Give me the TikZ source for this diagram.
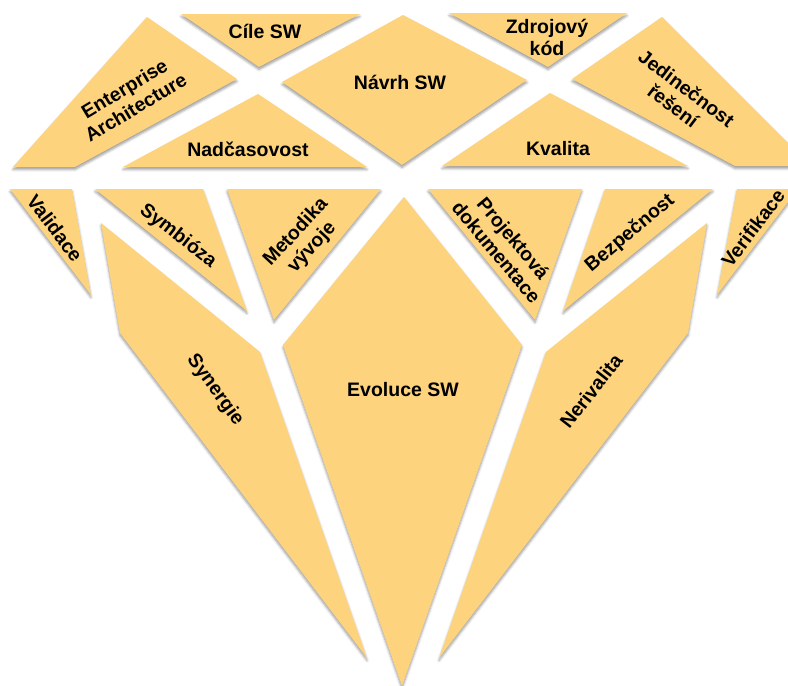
\documentclass[tikz,border=0pt]{standalone}
\usepackage{fontspec}
\setmainfont{Liberation Sans}
\usetikzlibrary{shadows.blur}
\definecolor{facet}{RGB}{253,211,125}
\tikzset{
  facetfill/.style={fill=facet, draw=none,
    blur shadow={shadow xshift=0pt, shadow yshift=-2.5pt, shadow blur radius=2.5pt, shadow opacity=40}},
  facetlabel/.style={inner sep=0pt, align=center,
    font=\fontsize{19.5}{22}\selectfont\bfseries}
}
\begin{document}
\begin{tikzpicture}[x=1pt, y=-1pt]
\useasboundingbox (0,0) rectangle (788,686);
\clip (0,0) rectangle (788,686);
% crown: upper row
\path[facetfill] (181,14) -- (360,14) -- (259,67) -- cycle;
\path[facetfill] (147,17) -- (237,79) -- (75,167) -- (13,167) -- cycle;
\path[facetfill] (282,82) -- (403,15) -- (527,80) -- (402,165) -- cycle;
\path[facetfill] (449,13) -- (627,13) -- (548,67) -- cycle;
\path[facetfill] (662,17) -- (572,79) -- (735,166) -- (811,166) -- cycle;
\path[facetfill] (258,94) -- (367,167) -- (123,167) -- cycle;
\path[facetfill] (550,93) -- (688,166) -- (442,166) -- cycle;
% pavilion: lower row
\path[facetfill] (10,189) -- (72,189) -- (91,295) -- cycle;
\path[facetfill] (95,189) -- (203,189) -- (247,311) -- cycle;
\path[facetfill] (227,189) -- (381,189) -- (274,320) -- cycle;
\path[facetfill] (428,189) -- (582,189) -- (535,320) -- cycle;
\path[facetfill] (605,189) -- (713,189) -- (563,311) -- cycle;
\path[facetfill] (737,189) -- (798,189) -- (717,295) -- cycle;
% pavilion: long facets
\path[facetfill] (101,223) -- (260,352) -- (367,658) -- (120,333) -- cycle;
\path[facetfill] (404,197) -- (522,345) -- (402,686) -- (283,345) -- cycle;
\path[facetfill] (707,223) -- (688,333) -- (439,658) -- (546,352) -- cycle;
% labels
\node[facetlabel] (cile) at (265,31) {Cíle SW};
\node[facetlabel, rotate=31] (ea) at (130,98) {Enterprise\\Architecture};
\node[facetlabel] (navrh) at (400,82) {Návrh SW};
\node[facetlabel] (kod) at (547,37) {Zdrojový\\kód};
\node[facetlabel, rotate=-37] (jed) at (680,97) {Jedinečnost\\řešení};
\node[facetlabel] (nadc) at (248,149) {Nadčasovost};
\node[facetlabel] (kval) at (558,149) {Kvalita};
\node[facetlabel, rotate=-53] (val) at (55,228) {Validace};
\node[facetlabel, rotate=-38] (sym) at (178,236) {Symbióza};
\node[facetlabel, rotate=47] (met) at (304,240) {Metodika\\vývoje};
\node[facetlabel, rotate=-50] (proj) at (505,245) {Projektová\\dokumentace};
\node[facetlabel, rotate=40] (bez) at (630,233) {Bezpečnost};
\node[facetlabel, rotate=53] (ver) at (753,228) {Verifikace};
\node[facetlabel, rotate=-54] (syn) at (215,390) {Synergie};
\node[facetlabel] (evo) at (403,390) {Evoluce SW};
\node[facetlabel, rotate=52] (neri) at (591,391) {Nerivalita};
\end{tikzpicture}
\end{document}
